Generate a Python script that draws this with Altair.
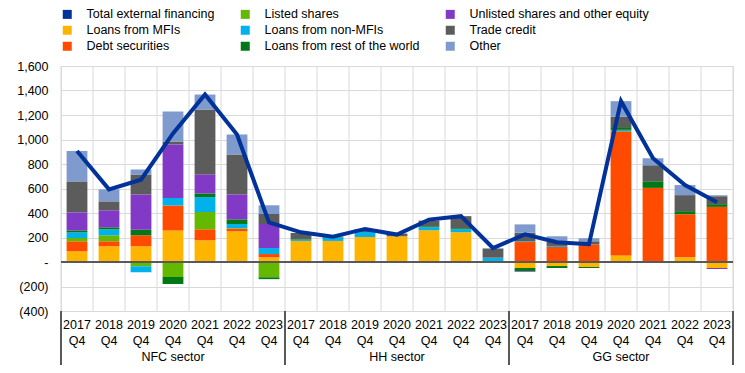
import altair as alt
import pandas as pd

sector_codes = ["NFC", "HH", "GG"]
sector_labels = ["NFC sector", "HH sector", "GG sector"]
years = ["2017", "2018", "2019", "2020", "2021", "2022", "2023"]

# values: NFC 2017..2023, HH 2017..2023, GG 2017..2023 (EUR billions)
loans_mfi = [87, 128, 128, 258, 177, 250, 38,
             172, 172, 204, 210, 259, 243, 0,
             -49, -33, -41, 54, 0, 38, -49]
debt_sec = [82, 41, 90, 204, 90, 22, 27,
            0, 0, 0, 0, 0, 0, 0,
            163, 123, 144, 1014, 605, 352, 450]
listed = [27, 49, -35, -122, 141, 5, -125,
          0, 0, 0, 0, 0, 0, 0,
          0, 0, 0, 0, 0, 0, 0]
loans_nonmfi = [46, 49, -49, 60, 122, 33, 49,
                11, 27, 41, -8, 25, 25, 35,
                5, 8, 0, 11, 0, 0, 0]
loans_row = [16, 16, 46, -58, 30, 38, -15,
             5, 3, 0, 0, 8, 8, 0,
             -27, -16, -8, 22, 54, 25, 22]
unlisted = [147, 139, 288, 438, 155, 204, 196,
            0, 0, 0, 0, 0, 0, 0,
            -5, 0, 0, 0, 0, 0, -8]
trade_credit = [253, 73, 163, 24, 530, 326, 82,
                49, 5, 14, 22, 46, 98, 74,
                71, 41, 25, 84, 131, 131, 65]
other = [248, 98, 41, 245, 122, 163, 71,
         0, 0, 10, 0, 0, 0, 5,
         68, 38, 25, 128, 57, 82, 8]
total = [906, 593, 672, 1050, 1367, 1041, 323,
         242, 207, 270, 224, 346, 374, 114,
         226, 161, 145, 1313, 847, 628, 488]

stack_series = [
    ("Loans from MFIs", loans_mfi),
    ("Debt securities", debt_sec),
    ("Listed shares", listed),
    ("Loans from non-MFIs", loans_nonmfi),
    ("Loans from rest of the world", loans_row),
    ("Unlisted shares and other equity", unlisted),
    ("Trade credit", trade_credit),
    ("Other", other),
]

legend_order = ["Total external financing", "Listed shares", "Unlisted shares and other equity",
                "Loans from MFIs", "Loans from non-MFIs", "Trade credit",
                "Debt securities", "Loans from rest of the world", "Other"]
legend_colors = ["#003299", "#65B800", "#8139C6",
                 "#FFB400", "#00B1EA", "#5C5C5C",
                 "#FF4B00", "#007816", "#7F9BCE"]

keys = [f"{c} {y}" for c in sector_codes for y in years]

rows = []
for i, (name, vals) in enumerate(stack_series):
    for k, v in zip(keys, vals):
        if v != 0:
            rows.append({"key": k, "series": name, "value": v, "idx": i})
bars_df = pd.DataFrame(rows)
line_df = pd.DataFrame({"key": keys, "total": total})
grid_df = pd.DataFrame({"key": keys})
sep_df = pd.DataFrame({"key": [f"{c} 2017" for c in sector_codes]})
end_df = pd.DataFrame({"key": [keys[-1]]})
sector_df = pd.DataFrame({"key": [f"{c} 2020" for c in sector_codes], "label": sector_labels})

W, H = 672, 245
FONT = "Arial"

xscale = alt.Scale(domain=keys, paddingInner=0, paddingOuter=0)
x_axis = alt.Axis(title=None, labelExpr="[split(datum.value, ' ')[1], 'Q4']", labelAngle=0,
                  ticks=False, domain=False, grid=False, labelPadding=7, labelLineHeight=16.5,
                  labelFontSize=12.5, labelFont=FONT, labelColor="#000000", labelBaseline="top",
                  labelOverlap=False)
y_axis = alt.Axis(title=None, values=list(range(-400, 1601, 200)), ticks=False, domain=False,
                  labelPadding=13, labelFontSize=12.5, labelFont=FONT, labelColor="#000000",
                  gridColor="#d9d9d9", gridWidth=1, labelOverlap=False, labelFlush=False,
                  labelExpr="datum.value == 0 ? '-' : (datum.value < 0 ? '(' + format(-datum.value, ',') + ')' : format(datum.value, ','))")
yscale = alt.Scale(domain=[-400, 1600], nice=False)

def X(**kw):
    return alt.X("key:N", scale=xscale, axis=x_axis, **kw)

vgrid = alt.Chart(grid_df).mark_rule(color="#d9d9d9", strokeWidth=1).encode(
    x=X(bandPosition=0), y=alt.value(0), y2=alt.value(H))
vgrid_end = alt.Chart(end_df).mark_rule(color="#d9d9d9", strokeWidth=1).encode(
    x=X(bandPosition=1), y=alt.value(0), y2=alt.value(H))

bars = alt.Chart(bars_df).mark_bar(width={"band": 0.65}).encode(
    x=X(),
    y=alt.Y("value:Q", scale=yscale, axis=y_axis, stack="zero"),
    color=alt.Color("series:N", scale=alt.Scale(domain=legend_order, range=legend_colors),
                    legend=alt.Legend(title=None, orient="none", legendX=0, legendY=-58, columns=3,
                                      direction="horizontal", columnPadding=24, rowPadding=3,
                                      symbolType="square", symbolSize=81, symbolStrokeWidth=0,
                                      symbolOpacity=1, labelFontSize=12.5, labelFont=FONT,
                                      labelColor="#000000", labelOffset=13, padding=0,
                                      labelLimit=400)),
    order=alt.Order("idx:Q"),
)

zero = alt.Chart(line_df).mark_rule(color="#595959", strokeWidth=2).encode(
    x=alt.value(0), x2=alt.value(W), y=alt.datum(0, scale=yscale, axis=y_axis))

line = alt.Chart(line_df).mark_line(color="#003299", strokeWidth=4).encode(
    x=X(), y=alt.Y("total:Q", scale=yscale, axis=y_axis))

seps = alt.Chart(sep_df).mark_rule(color="#595959", strokeWidth=2).encode(
    x=X(bandPosition=0), y=alt.value(H), y2=alt.value(H + 54))
sep_end = alt.Chart(end_df).mark_rule(color="#595959", strokeWidth=2).encode(
    x=X(bandPosition=1), y=alt.value(H), y2=alt.value(H + 54))

sector_text = alt.Chart(sector_df).mark_text(font=FONT, fontSize=12.5, color="#000000", baseline="middle").encode(
    x=X(), y=alt.value(H + 46), text="label:N")

chart = alt.layer(vgrid, vgrid_end, bars, zero, line, seps, sep_end, sector_text).properties(
    width=W, height=H,
    autosize=alt.AutoSizeParams(type="none"),
    padding={"left": 53, "top": 58, "right": 4, "bottom": 54},
).configure_view(stroke=None).configure(font=FONT)

chart.save("out.html", embed_options={"renderer": "svg", "actions": False})
